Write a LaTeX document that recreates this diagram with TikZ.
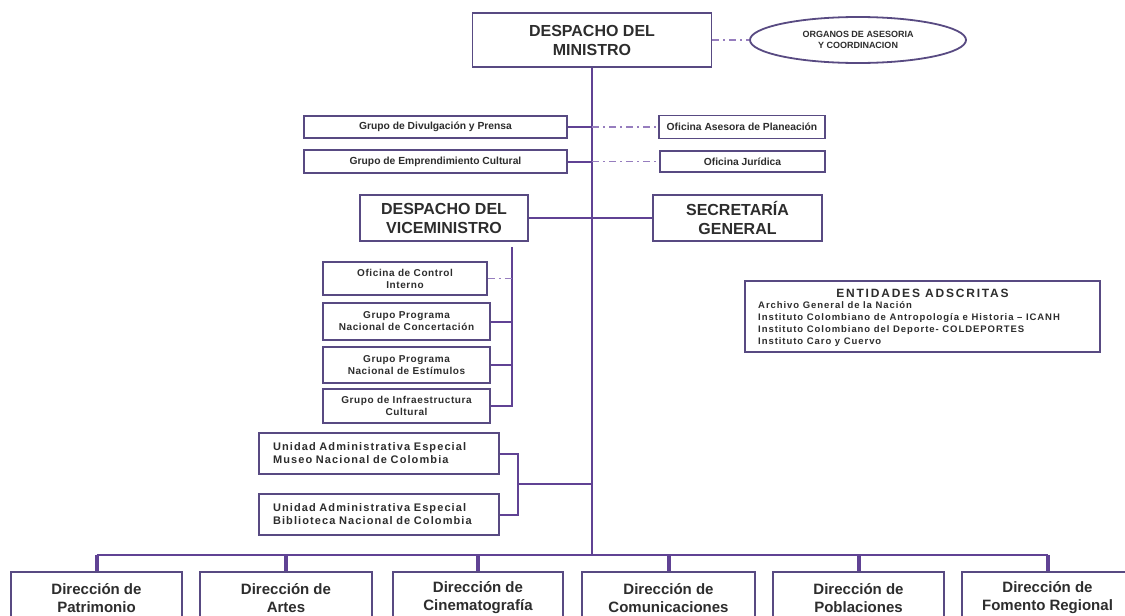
\documentclass[tikz,border=0pt]{standalone}
\usepackage{fontspec}
\setmainfont{Liberation Sans}
\usetikzlibrary{shapes.geometric,calc}
\definecolor{linec}{RGB}{96,66,148}
\definecolor{boxc}{RGB}{88,74,130}
\definecolor{dashc}{RGB}{150,125,190}
\definecolor{txtc}{RGB}{45,45,45}
\newcommand{\fsz}[2]{\fontsize{#1}{#2}\selectfont\bfseries}
\begin{document}
\begin{tikzpicture}[x=1pt,y=-1pt,
  bx/.style={draw=boxc, line width=1.8pt, fill=white, text=txtc, align=center, inner sep=0pt},
  conn/.style={draw=linec, line width=2pt},
  dropline/.style={draw=linec, line width=4pt},
  dd/.style={draw=dashc, line width=1.6pt, dash pattern=on 7pt off 4pt on 2pt off 4pt},
  bigtxt/.style={font=\fsz{16}{19}},
  dirtxt/.style={font=\fsz{15}{18}},
  smalltxt/.style={font=\fsz{10.3}{12}},
  tinytxt/.style={font=\fsz{10}{12}\addfontfeatures{LetterSpace=6}},
  uaetxt/.style={font=\fsz{11}{13}\addfontfeatures{LetterSpace=10}},
]
\useasboundingbox (0,0) rectangle (1125,616);
\clip (0,0) rectangle (1125,616);
\fill[white] (0,0) rectangle (1125,616);

% top
\node[bx, bigtxt, minimum width=239pt, minimum height=54pt] (min) at (592,40) {DESPACHO DEL\\MINISTRO};
\node[ellipse, draw=boxc, line width=1.8pt, fill=white, text=txtc, align=center, inner sep=0pt,
      font=\fsz{9}{11}, minimum width=216pt, minimum height=46pt] (org) at (858,40) {ORGANOS DE ASESORIA\\Y COORDINACION};

\node[bx, smalltxt, minimum width=263pt, minimum height=22pt] (div) at (435.5,127) {Grupo de Divulgación y Prensa};
\node[bx, smalltxt, minimum width=263pt, minimum height=23pt] (emp) at (435.5,161.5) {Grupo de Emprendimiento Cultural};
\node[bx, smalltxt, minimum width=166pt, minimum height=23pt] (ase) at (742,127) {Oficina Asesora de Planeación};
\node[bx, smalltxt, minimum width=165pt, minimum height=21pt] (jur) at (742.5,161.5) {Oficina Jurídica};

\node[bx, bigtxt, minimum width=168pt, minimum height=46pt] (vice) at (444,218) {DESPACHO DEL\\VICEMINISTRO};
\node[bx, bigtxt, minimum width=169pt, minimum height=46pt] (sec) at (737.5,218) {SECRETARÍA\\GENERAL};

\node[bx, tinytxt, minimum width=164pt, minimum height=33pt] (oci) at (405,278.5) {Oficina de Control\\Interno};
\node[bx, tinytxt, minimum width=167pt, minimum height=37pt] (con) at (406.5,321.5) {Grupo Programa\\Nacional de Concertación};
\node[bx, tinytxt, minimum width=167pt, minimum height=36pt] (est) at (406.5,365) {Grupo Programa\\Nacional de Estímulos};
\node[bx, tinytxt, minimum width=167pt, minimum height=34pt] (inf) at (406.5,406) {Grupo de Infraestructura\\Cultural};

\node[bx, uaetxt, text width=212pt, inner xsep=14pt, minimum height=41pt, align=left] (mus) at (379,453.5) {Unidad Administrativa Especial\\Museo Nacional de Colombia};
\node[bx, uaetxt, text width=212pt, inner xsep=14pt, minimum height=41pt, align=left] (bib) at (379,514.5) {Unidad Administrativa Especial\\Biblioteca Nacional de Colombia};

% entidades adscritas
\node[bx, minimum width=355pt, minimum height=71pt] (ent) at (922.5,316.5) {};
\node[text=txtc, inner sep=0pt, anchor=base, font=\fsz{12}{14}\addfontfeatures{LetterSpace=15}] (entt) at (922.5,297) {ENTIDADES ADSCRITAS};
\node[text=txtc, inner sep=0pt, anchor=north west, align=left, font=\fsz{9.5}{12}\addfontfeatures{LetterSpace=10}] (entl) at (758,301)
  {Archivo General de la Nación\\Instituto Colombiano de Antropología e Historia -- ICANH\\Instituto Colombiano del Deporte- COLDEPORTES\\Instituto Caro y Cuervo};

% bottom row
\node[bx, dirtxt, minimum width=171pt, minimum height=52pt] (pat) at (96.5,598) {Dirección de\\Patrimonio};
\node[bx, dirtxt, minimum width=172pt, minimum height=52pt] (art) at (286,598) {Dirección de\\Artes};
\node[bx, dirtxt, minimum width=170pt, minimum height=52pt] (cin) at (478,598) {Dirección de\\Cinematografía};
\node[bx, dirtxt, minimum width=173pt, minimum height=52pt] (com) at (668.5,598) {Dirección de\\Comunicaciones};
\node[bx, dirtxt, minimum width=171pt, minimum height=52pt] (pob) at (858.5,598) {Dirección de\\Poblaciones};
\node[bx, dirtxt, minimum width=171pt, minimum height=52pt] (fom) at (1047.5,598) {Dirección de\\Fomento Regional};

% helper coordinates
\coordinate (bus) at (592,555);
\coordinate (subx) at (512,0);
\coordinate (brx) at (518,0);

% connectors
\draw[dd] (min.east) -- (org.west);
\draw[conn] (min.south) -- (bus);
\draw[conn] (div.east) -- (div.east -| min.south);
\draw[dd] (div.east -| min.south) -- (ase.west);
\draw[conn] (emp.east) -- (emp.east -| min.south);
\draw[dd] (emp.east -| min.south) -- (jur.west);
\draw[conn] (vice.east) -- (sec.west);

\draw[conn] ([yshift=-5pt]vice.south -| subx) -- (inf.east -| subx) -- (inf.east);
\draw[conn] (con.east) -- (con.east -| subx);
\draw[conn] (est.east) -- (est.east -| subx);
\draw[dd] (oci.east) -- (oci.east -| subx);

\draw[conn] (mus.east) -- (mus.east -| brx) -- (bib.east -| brx) -- (bib.east);
\draw[conn] ($(mus.east -| brx)!0.5!(bib.east -| brx)$) -- ($(mus.east -| min.south)!0.5!(bib.east -| min.south)$);

\draw[conn] (pat.north |- bus) -- (fom.north |- bus);
\foreach \n in {pat,art,cin,com,pob,fom}{
  \draw[dropline] (\n.north) -- (\n.north |- bus);
}
\end{tikzpicture}
\end{document}
